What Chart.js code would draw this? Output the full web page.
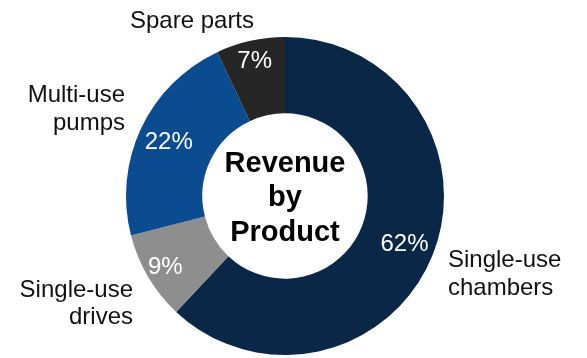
<!DOCTYPE html>
<html>
<head>
<meta charset="utf-8">
<script src="https://cdn.jsdelivr.net/npm/chart.js@4/dist/chart.umd.min.js"></script>
<style>
  html, body { margin: 0; padding: 0; background: #ffffff; }
  #wrap { width: 587px; height: 358px; position: relative; }
</style>
</head>
<body>
<div id="wrap"><canvas id="c"></canvas></div>
<script>
// ---- data ----
const categories = ["Single-use chambers", "Single-use drives", "Multi-use pumps", "Spare parts"];
const shares = [62, 9, 22, 7];
const centerTitle = ["Revenue", "by", "Product"];

// ---- styling ----
const colors = ["#0b2748", "#8e8e8e", "#0a4c8f", "#262626"];
const FONT = '"Liberation Sans", Arial, Helvetica, sans-serif';

// category label anchors relative to the ring centre, in units of outer radius
const catLayout = [
  { lines: ["Single-use", "chambers"], fx: 1.025, fy: 0.447, align: "left" },
  { lines: ["Single-use", "drives"],   fx: -0.956, fy: 0.635, align: "right" },
  { lines: ["Multi-use", "pumps"],     fx: -1.006, fy: -0.591, align: "right" },
  { lines: ["Spare parts"],            fx: -0.975, fy: -1.057, align: "left" }
];

const labelPlugin = {
  id: "labels",
  afterDatasetsDraw(chart) {
    const ctx = chart.ctx;
    const meta = chart.getDatasetMeta(0);
    let cx = 0, cy = 0, R = 0;
    ctx.save();
    meta.data.forEach((arc, i) => {
      const p = arc.getProps(["x", "y", "startAngle", "endAngle", "innerRadius", "outerRadius"], true);
      cx = p.x; cy = p.y; R = p.outerRadius;
      const mid = (p.startAngle + p.endAngle) / 2;
      const f = shares[i] >= 15 ? 0.6 : 0.74;
      const rr = p.innerRadius + (p.outerRadius - p.innerRadius) * f;
      ctx.fillStyle = "#ffffff";
      ctx.font = "24px " + FONT;
      ctx.textAlign = "center";
      ctx.textBaseline = "middle";
      ctx.fillText(shares[i] + "%", p.x + Math.cos(mid) * rr, p.y + Math.sin(mid) * rr + 1);
    });
    // category labels
    ctx.fillStyle = "#111111";
    ctx.font = "24px " + FONT;
    ctx.textBaseline = "alphabetic";
    catLayout.forEach((c) => {
      ctx.textAlign = c.align;
      c.lines.forEach((ln, k) => {
        ctx.fillText(ln, cx + c.fx * R, cy + c.fy * R + k * 27.5);
      });
    });
    // centre title
    ctx.fillStyle = "#000000";
    ctx.font = "bold 29px " + FONT;
    ctx.textAlign = "center";
    ctx.textBaseline = "alphabetic";
    centerTitle.forEach((ln, k) => {
      ctx.fillText(ln, cx, cy + 10 + (k - 1) * 34.5);
    });
    ctx.restore();
  }
};

new Chart(document.getElementById("c"), {
  type: "doughnut",
  data: {
    labels: categories,
    datasets: [{
      data: shares,
      backgroundColor: colors,
      borderWidth: 0,
      hoverOffset: 0
    }]
  },
  options: {
    responsive: true,
    maintainAspectRatio: false,
    animation: false,
    cutout: "52%",
    rotation: 0,
    layout: { padding: { top: 37, bottom: 3, left: 100, right: 117 } },
    plugins: {
      legend: { display: false },
      tooltip: { enabled: false }
    }
  },
  plugins: [labelPlugin]
});
</script>
</body>
</html>
